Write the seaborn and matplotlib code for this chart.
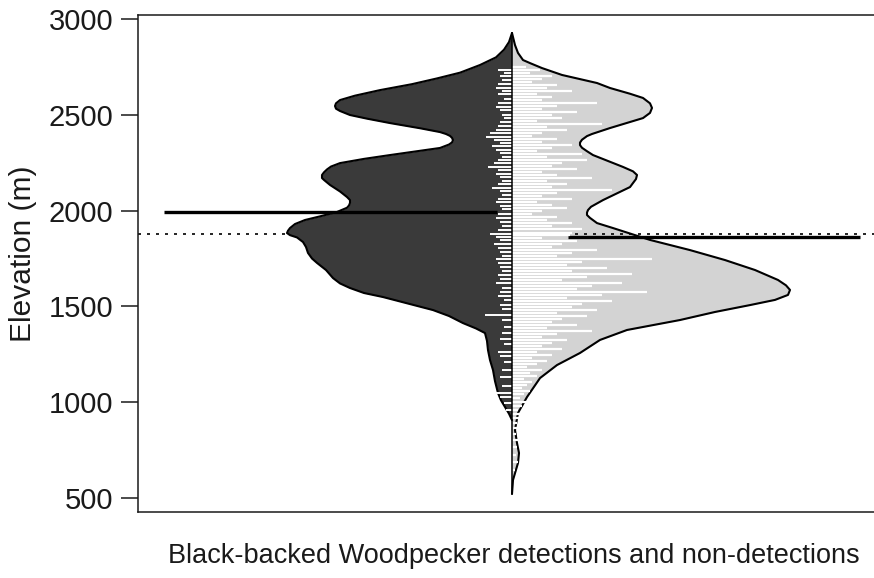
import matplotlib
matplotlib.use("Agg")
import matplotlib.pyplot as plt
import numpy as np
import pandas as pd
import seaborn as sns

# Bean outline (density half-width) along elevation, detections side
det_elev = [2927, 2880, 2840, 2800, 2760, 2720, 2690, 2660, 2629, 2600, 2577, 2560,
            2546, 2532, 2520, 2499, 2480, 2457, 2430, 2410, 2400, 2390, 2380, 2368,
            2356, 2345, 2337, 2327, 2310, 2290, 2270, 2248, 2230, 2215, 2200, 2186,
            2170, 2160, 2134, 2100, 2071, 2055, 2040, 2027, 2015, 1993, 1970,
            1951, 1930, 1909, 1895, 1883, 1872, 1860, 1836, 1810, 1779, 1750, 1727,
            1690, 1648, 1620, 1596, 1570, 1549, 1515, 1481, 1450, 1413, 1385, 1361,
            1320, 1272, 1220, 1168, 1110, 1048, 1010, 975, 940, 907]
det_width = [0, 3, 8, 16, 32, 52, 75, 100, 132, 157, 172, 176,
             177, 176, 172, 162, 145, 122, 92, 72, 66, 62, 60, 59,
             60, 63, 67, 72, 95, 122, 148, 172, 181, 185, 188, 190,
             190, 188, 182, 172, 165, 162, 162, 163, 165, 175, 192,
             207, 217, 222, 224, 225, 222, 215, 209, 206, 204, 200, 195,
             186, 179, 172, 162, 148, 129, 104, 79, 63, 49, 36, 27,
             25, 24, 22, 19, 17, 14, 11, 7, 3, 0]

# Bean outline, non-detections side
non_elev = [2927, 2864, 2823, 2786, 2770, 2744, 2708, 2666, 2640, 2610, 2588, 2560,
            2536, 2510, 2483, 2431, 2400, 2389, 2370, 2355, 2342, 2328, 2310, 2290,
            2228, 2205, 2186, 2165, 2123, 2055, 2020, 2003, 1990, 1977, 1962, 1935,
            1909, 1847, 1794, 1742, 1690, 1638, 1610, 1586, 1560, 1534, 1507, 1471,
            1429, 1377, 1325, 1257, 1194, 1126, 1027, 944, 855, 787, 735, 683, 594,
            521]
non_width = [0, 3, 6, 11, 18, 30, 50, 85, 98, 118, 131, 138,
             140, 138, 131, 98, 80, 75, 70, 68, 68, 70, 75, 81,
             111, 121, 125, 124, 118, 91, 79, 76, 75, 75, 78, 85,
             101, 138, 178, 213, 243, 266, 274, 278, 276, 263, 238, 203,
             168, 115, 88, 68, 45, 28, 15, 6, 3, 5, 7, 6, 1,
             0]

# Individual survey points (bean lines): elevation and stacked line length
det_obs = [2734, 2718, 2703, 2682, 2661, 2640, 2624,
           2609, 2583, 2562, 2541, 2525, 2499, 2483, 2462, 2442, 2421, 2405, 2384,
           2369, 2353, 2337, 2316, 2301, 2280, 2264, 2249, 2228, 2212, 2191, 2175,
           2155, 2139, 2118, 2102, 2081, 2061, 2045, 2024, 2008, 1982, 1962, 1941,
           1920, 1899, 1878, 1862, 1847, 1826, 1805, 1784, 1763, 1748, 1727, 1706,
           1685, 1664, 1643, 1622, 1596, 1575, 1554, 1534, 1507, 1487, 1455, 1429,
           1393, 1361, 1330, 1304, 1262, 1241, 1210, 1168, 1132, 1085, 1048, 1027,
           996, 959]
det_obs_len = [14, 8, 12, 10, 14, 16, 10,
               14, 8, 14, 16, 12, 10, 8, 12, 14, 16, 22, 26,
               18, 12, 20, 16, 12, 10, 14, 18, 24, 14, 16, 12,
               10, 14, 20, 12, 10, 14, 16, 12, 10, 14, 16, 12,
               10, 14, 22, 16, 12, 18, 14, 12, 10, 16, 14, 12,
               10, 14, 12, 16, 10, 12, 14, 8, 12, 10, 27, 10,
               8, 10, 12, 8, 14, 12, 8, 10, 12, 10, 16, 12,
               8, 6]

non_obs = [2750, 2734, 2718, 2703, 2687,
           2671, 2656, 2640, 2624, 2609, 2593, 2577, 2562, 2546, 2530, 2515, 2499,
           2483, 2468, 2452, 2436, 2421, 2405, 2389, 2374, 2358, 2342, 2327, 2311,
           2295, 2280, 2264, 2249, 2233, 2217, 2202, 2186, 2170, 2155, 2139, 2123,
           2108, 2092, 2076, 2061, 2045, 2029, 2014, 1998, 1982, 1967, 1951, 1935,
           1920, 1904, 1881, 1873, 1857, 1841, 1826, 1810, 1794, 1779, 1763, 1748,
           1732, 1716, 1700, 1685, 1669, 1654, 1638, 1622, 1607, 1591, 1575, 1560,
           1544, 1528, 1513, 1497, 1481, 1466, 1450, 1434, 1419, 1403, 1387, 1372,
           1356, 1340, 1325, 1309, 1293, 1278, 1262, 1246, 1231, 1215, 1199, 1184,
           1168, 1152, 1137, 1121, 1105, 1090, 1074, 1059, 1043, 1022, 1001, 980,
           959, 939, 918, 892, 866, 834, 803, 766, 725, 688, 646]
non_obs_len = [14, 28, 18, 40, 30,
               20, 45, 35, 60, 25, 40, 30, 85, 45, 30, 65, 40,
               50, 25, 90, 35, 55, 30, 20, 45, 30, 60, 40, 25,
               70, 35, 75, 50, 40, 65, 30, 45, 80, 35, 55, 40,
               100, 45, 30, 60, 25, 40, 55, 30, 20, 45, 35, 60,
               40, 70, 60, 58, 30, 65, 50, 40, 85, 60, 45, 140,
               70, 55, 95, 60, 120, 75, 50, 110, 80, 65, 135, 90,
               55, 100, 70, 60, 85, 45, 75, 50, 40, 65, 35, 80,
               45, 30, 55, 40, 30, 50, 25, 40, 20, 35, 25, 15,
               30, 18, 25, 12, 20, 15, 10, 18, 12, 8, 14, 10,
               6, 12, 8, 5, 8, 4, 6, 5, 4, 6, 3]

det_mean = 1993
non_mean = 1862
overall_mean = 1880
y_ticks = [500, 1000, 1500, 2000, 2500, 3000]

assert len(det_elev) == len(det_width)
assert len(non_elev) == len(non_width)
assert len(det_obs) == len(det_obs_len)
assert len(non_obs) == len(non_obs_len)

sns.set_style("ticks")
plt.rcParams["font.family"] = ["Liberation Sans", "DejaVu Sans"]

fig = plt.figure(figsize=(8.74, 5.78), dpi=100)
ax = fig.add_axes([138 / 874, 66 / 578, 748 / 874, 497 / 578])
ax.set_xlim(-374, 374)
ax.set_ylim(427, 3021)

dark = "#3a3a3a"
light = "#d3d3d3"
ink = "#1a1a1a"

det_w = np.array(det_width)
non_w = np.array(non_width)

# overall average (dotted): hidden beneath the dark half, drawn over the light one
dotted = (0, (1.8, 3.6))
ax.hlines(overall_mean, -374, 0, color="black", lw=1.2, ls=dotted, zorder=0.5)
ax.hlines(overall_mean, 0, 374, color="black", lw=1.2, ls=dotted, zorder=2)

# bean fills
ax.fill_betweenx(det_elev, -det_w, 0, color=dark, lw=0, zorder=1)
ax.fill_betweenx(non_elev, 0, non_w, color=light, lw=0, zorder=1)

# bean borders
det_df = pd.DataFrame({"edge": -det_w, "elev": det_elev})
non_df = pd.DataFrame({"edge": non_w, "elev": non_elev})
for df in (det_df, non_df):
    sns.lineplot(data=df, x="edge", y="elev", orient="y", sort=False,
                 estimator=None, color="black", lw=1.5, ax=ax, zorder=3)

# bean averages
ax.hlines(det_mean, -348, -15, color="black", lw=2.4, zorder=3.5)
ax.hlines(non_mean, 56, 348, color="black", lw=2.4, zorder=3.5)

# bean lines
ax.hlines(det_obs, -np.array(det_obs_len), 0, color="white", lw=1.4, zorder=4)
ax.hlines(non_obs, 0, np.array(non_obs_len), color="white", lw=1.6, zorder=4)

# centre line of the bean
ax.plot([0, 0], [max(det_elev[0], non_elev[0]), non_elev[-1]],
        color="black", lw=1.1, zorder=5)

ax.set_yticks(y_ticks)
ax.set_xticks([])
ax.set_xlabel("")
ax.set_ylabel("")
ax.tick_params(axis="y", length=12, width=1.1, pad=6, labelsize=21,
               colors=ink, labelcolor=ink)
for side in ("top", "left", "bottom"):
    ax.spines[side].set_visible(True)
    ax.spines[side].set_linewidth(1.1)
    ax.spines[side].set_color(ink)
ax.spines["right"].set_visible(False)

fig.text(514 / 874, 1 - 556 / 578,
         "Black-backed Woodpecker detections and non-detections",
         ha="center", va="center", fontsize=19.5, color=ink)
fig.text(23 / 874, 1 - 254 / 578, "Elevation (m)", rotation=90,
         ha="center", va="center", fontsize=21.5, color=ink)

fig.savefig("out.png", dpi=100, facecolor="white")
